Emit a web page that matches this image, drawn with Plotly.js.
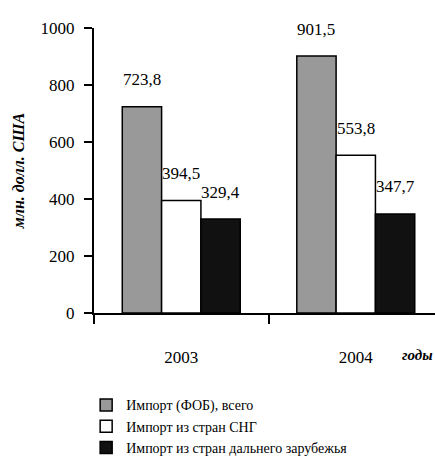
<!DOCTYPE html>
<html>
<head>
<meta charset="utf-8">
<script src="https://cdn.plot.ly/plotly-3.0.1.min.js"></script>
<style>html,body{margin:0;padding:0;background:#fff;}#chart{width:435px;height:459px;}</style>
</head>
<body>
<div id="chart"></div>
<script>
var years = ['2003', '2004'];
var seriesNames = ['Импорт (ФОБ), всего', 'Импорт из стран СНГ', 'Импорт из стран дальнего зарубежья'];
var importTotal = [723.8, 901.5];
var importCIS = [394.5, 553.8];
var importFar = [329.4, 347.7];
var yTicks = [0, 200, 400, 600, 800, 1000];

var FONT = 'Liberation Serif';
var colors = ['#999999', '#ffffff', '#111111'];
var values = [importTotal, importCIS, importFar];

var W = 435, H = 459, ML = 94, MR = 0, MT = 28, MB = 146;
var XR = [-0.5, 1.454], BARGAP = 0.324;
var barUnit = (1 - BARGAP) / values.length;

var traces = values.map(function (v, i) {
  return {
    type: 'bar',
    name: seriesNames[i],
    x: years,
    y: v,
    marker: {color: colors[i], line: {color: '#000', width: 1.5}},
    hoverinfo: 'none'
  };
});

var annotations = [];
for (var i = 0; i < values.length; i++) {
  for (var j = 0; j < years.length; j++) {
    var d = values[i][j];
    annotations.push({
      x: j + (i - (values.length - 1) / 2) * barUnit,
      y: d, xref: 'x', yref: 'y',
      text: d.toFixed(1).replace('.', ','),
      showarrow: false, xanchor: 'center', yanchor: 'middle',
      yshift: 27,
      font: {family: FONT, size: 17, color: '#000'}
    });
  }
}
annotations.push({
  text: 'годы', xref: 'paper', yref: 'paper', x: 1.0, y: -0.147,
  xanchor: 'right', yanchor: 'middle', showarrow: false,
  font: {family: FONT, size: 15, color: '#000', style: 'italic', weight: 'bold'}
});

var layout = {
  width: W, height: H,
  margin: {l: ML, r: MR, t: MT, b: MB, pad: 0, autoexpand: false},
  paper_bgcolor: '#fff', plot_bgcolor: '#fff',
  barmode: 'group', bargap: BARGAP, bargroupgap: 0,
  font: {family: FONT, size: 17, color: '#000'},
  showlegend: true,
  legend: {
    x: -0.023, xanchor: 'left', y: -0.268, yanchor: 'top',
    font: {family: FONT, size: 14, color: '#000'},
    bgcolor: 'rgba(0,0,0,0)', traceorder: 'normal', tracegroupgap: 0
  },
  xaxis: {
    type: 'category', range: XR, fixedrange: true,
    showline: true, linecolor: '#000', linewidth: 2,
    ticks: 'outside', tickson: 'boundaries', ticklen: 9, tickwidth: 2, tickcolor: '#000',
    ticklabelstandoff: 28,
    tickfont: {family: FONT, size: 17, color: '#000'},
    showgrid: false, zeroline: false
  },
  yaxis: {
    range: [0, 1000], fixedrange: true,
    tickvals: yTicks, ticktext: yTicks.map(String),
    showline: true, linecolor: '#000', linewidth: 2,
    ticks: 'outside', ticklen: 8, tickwidth: 2, tickcolor: '#000',
    ticklabelstandoff: 6,
    tickfont: {family: FONT, size: 17, color: '#000'},
    showgrid: false, zeroline: false,
    title: {text: 'млн. долл. США', standoff: 12,
      font: {family: FONT, size: 16, color: '#000', style: 'italic', weight: 'bold'}}
  },
  annotations: annotations
};

Plotly.newPlot('chart', traces, layout, {staticPlot: true, displayModeBar: false});
</script>
</body>
</html>
